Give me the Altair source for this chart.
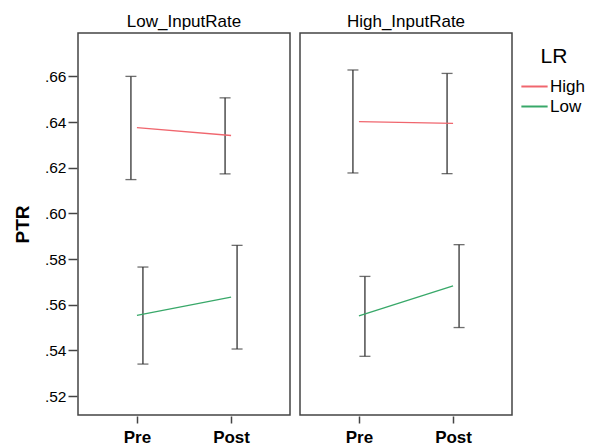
import altair as alt
import pandas as pd

input_rate = ["Low_InputRate"] * 4 + ["High_InputRate"] * 4
phase = ["Pre", "Post", "Pre", "Post", "Pre", "Post", "Pre", "Post"]
lr = ["High", "High", "Low", "Low", "High", "High", "Low", "Low"]
mean_ptr = [0.6376, 0.6341, 0.5553, 0.5633, 0.6402, 0.6394, 0.5551, 0.5683]
ci_low = [0.6148, 0.6173, 0.5340, 0.5406, 0.6177, 0.6174, 0.5374, 0.5500]
ci_high = [0.6600, 0.6506, 0.5765, 0.5860, 0.6628, 0.6613, 0.5724, 0.5863]

y_ticks = [0.52, 0.54, 0.56, 0.58, 0.60, 0.62, 0.64, 0.66]
lr_levels = ["High", "Low"]
lr_colors = ["#f0666e", "#38a869"]
phase_order = ["Pre", "Post"]
panel_order = ["Low_InputRate", "High_InputRate"]

df = pd.DataFrame({
    "InputRate": input_rate,
    "Phase": phase,
    "LR": lr,
    "PTR": mean_ptr,
    "lo": ci_low,
    "hi": ci_high,
})

FONT = "Liberation Sans"

x_enc = alt.X(
    "Phase:N",
    sort=phase_order,
    scale=alt.Scale(type="point", padding=0.626),
    axis=alt.Axis(title=None, labelAngle=0, labelFontWeight="bold", labelFontSize=17,
                  domain=False, tickSize=7, tickColor="#444", tickWidth=1.5,
                  labelColor="#000", labelPadding=6),
)
y_scale = alt.Scale(domain=[0.5117, 0.679], nice=False, zero=False)
y_axis = alt.Axis(
    title="PTR", values=y_ticks,
    labelExpr="replace(format(datum.value, '.2f'), '0.', '.')",
    titleFontWeight="bold", titleFontSize=19, titlePadding=12,
    labelFontSize=15.5, labelColor="#000", labelPadding=2,
    domain=False, tickSize=9, tickColor="#444", tickWidth=1.5, grid=False,
)
xoff = alt.XOffset("LR:N", scale=alt.Scale(type="point", domain=lr_levels, range=[-6, 6], padding=0))

lines = alt.Chart(df).mark_line(strokeWidth=1.3).encode(
    x=x_enc,
    y=alt.Y("PTR:Q", scale=y_scale, axis=y_axis),
    color=alt.Color("LR:N", scale=alt.Scale(domain=lr_levels, range=lr_colors),
                    legend=alt.Legend(title="LR", orient="none", legendX=445, legendY=13)),
    detail="LR:N",
)
rules = alt.Chart(df).mark_rule(color="#333", strokeWidth=1.3).encode(
    x=x_enc, xOffset=xoff,
    y=alt.Y("lo:Q", scale=y_scale), y2="hi:Q",
)
caps_lo = alt.Chart(df).mark_tick(color="#333", size=11, thickness=1.3).encode(
    x=x_enc, xOffset=xoff, y=alt.Y("lo:Q", scale=y_scale),
)
caps_hi = alt.Chart(df).mark_tick(color="#333", size=11, thickness=1.3).encode(
    x=x_enc, xOffset=xoff, y=alt.Y("hi:Q", scale=y_scale),
)

chart = alt.layer(rules, caps_lo, caps_hi, lines).properties(
    width=212, height=382
).facet(
    column=alt.Column("InputRate:N", sort=panel_order,
                      header=alt.Header(title=None, labelFontSize=17, labelFont=FONT,
                                        labelPadding=1, labelColor="#000")),
    spacing=8,
).properties(
    padding={"left": 5, "top": 5, "right": 0, "bottom": 5},
).configure(
    font=FONT,
).configure_view(
    stroke="#444", strokeWidth=1.5,
).configure_legend(
    symbolType="M-1.25,0H1.25", symbolSize=441, symbolStrokeWidth=2,
    labelFontSize=17, titleFontSize=21, titleFontWeight="normal",
    labelColor="#000", titleColor="#000", rowPadding=0, titlePadding=8,
    titleAnchor="middle", labelOffset=4,
)

chart.save("out.html", embed_options={"renderer": "svg", "actions": False})
